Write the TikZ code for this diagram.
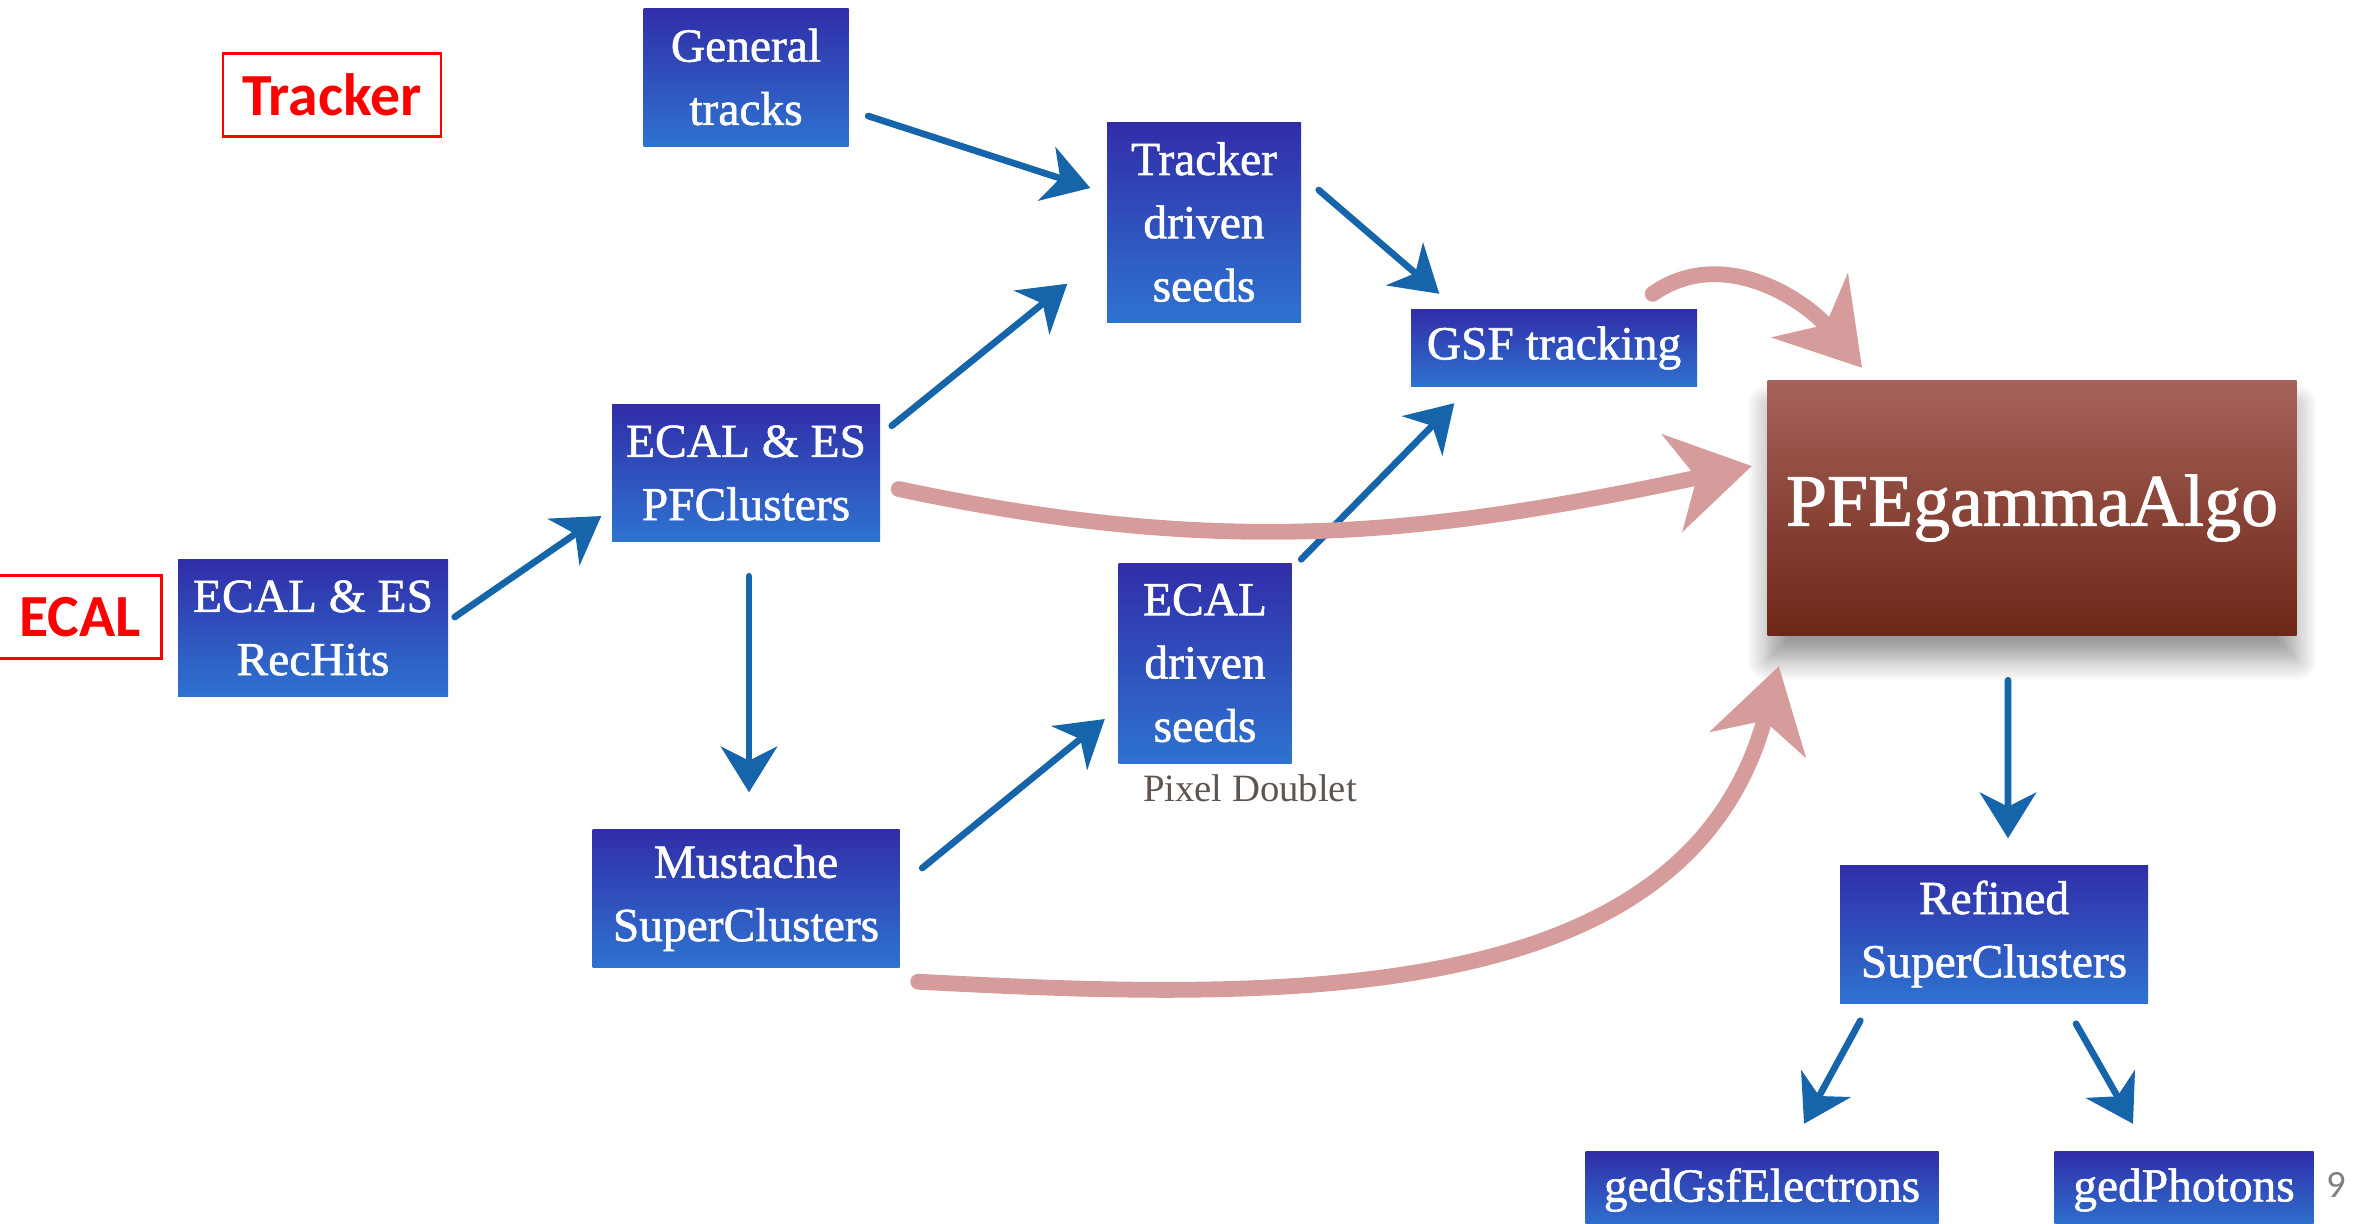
\documentclass[tikz,border=0pt]{standalone}
\usepackage{fontspec}
\setmainfont{Liberation Serif}
\newfontfamily\boxfont{Liberation Serif}[FakeBold=1.2]
\newfontfamily\labelfont{Carlito}
\usetikzlibrary{arrows.meta, shadows.blur}
\definecolor{boxtop}{RGB}{49,45,168}
\definecolor{boxbottom}{RGB}{46,115,208}
\definecolor{algotop}{RGB}{166,99,91}
\definecolor{algobottom}{RGB}{110,38,22}
\definecolor{flowblue}{RGB}{22,100,170}
\definecolor{flowpink}{RGB}{214,156,156}
\definecolor{notegray}{RGB}{95,85,80}
\tikzstyle{stepbox} = [
    rectangle,
    align=center,
    text=white,
    top color=boxtop,
    bottom color=boxbottom,
    font=\boxfont\fontsize{13.5}{18}\selectfont,
    inner sep=0pt
]
\tikzstyle{algobox} = [
    rectangle,
    text=white,
    top color=algotop,
    bottom color=algobottom,
    font=\boxfont\fontsize{21}{25}\selectfont,
    blur shadow={shadow xshift=0pt, shadow yshift=-7pt, shadow blur steps=12, shadow blur radius=6pt}
]
\tikzstyle{tag} = [
    rectangle,
    draw=red,
    thick,
    text=red,
    font=\labelfont\bfseries\fontsize{17}{20}\selectfont
]
\tikzstyle{arrow} = [
    flowblue,
    line width=1.9pt,
    line cap=round,
    -{Stealth[length=13pt, width=16pt, inset=4pt]}
]
\tikzstyle{bigarrow} = [
    flowpink,
    line width=4.5pt,
    line cap=round,
    -{Stealth[length=23pt, width=28pt, inset=7pt]}
]

\begin{document}
\begin{tikzpicture}
        \useasboundingbox (0,0) rectangle (23.59,-12.23);
        % labels
        \node (trackertag) [tag, minimum width=2.18cm, minimum height=0.83cm] at (3.32,-0.95) {Tracker};
        \node (ecaltag) [tag, minimum width=1.63cm, minimum height=0.83cm] at (0.80,-6.17) {ECAL};

        % boxes
        \node (gentracks) [stepbox, minimum width=2.05cm, minimum height=1.38cm] at (7.46,-0.77) {General\\tracks};
        \node (tdseeds) [stepbox, minimum width=1.94cm, minimum height=2.00cm] at (12.04,-2.22) {Tracker\\driven\\seeds};
        \node (gsf) [stepbox, minimum width=2.86cm, minimum height=0.77cm] at (15.54,-3.48) {GSF tracking};
        \node (pfclus) [stepbox, minimum width=2.68cm, minimum height=1.37cm] at (7.46,-4.73) {ECAL \& ES\\PFClusters};
        \node (rechits) [stepbox, minimum width=2.70cm, minimum height=1.37cm] at (3.13,-6.28) {ECAL \& ES\\RecHits};
        \node (edseeds) [stepbox, minimum width=1.73cm, minimum height=2.00cm] at (12.05,-6.63) {ECAL\\driven\\seeds};
        \node (pixel) [text=notegray, font=\fontsize{11}{13}\selectfont, anchor=north] at (12.50,-7.62) {Pixel Doublet};
        \node (mustache) [stepbox, minimum width=3.07cm, minimum height=1.38cm] at (7.46,-8.98) {Mustache\\SuperClusters};
        \node (pfegamma) [algobox, minimum width=5.29cm, minimum height=2.55cm] at (20.32,-5.08) {PFEgammaAlgo};
        \node (refined) [stepbox, minimum width=3.08cm, minimum height=1.38cm] at (19.94,-9.34) {Refined\\SuperClusters};
        \node (gedgsf) [stepbox, minimum width=3.53cm, minimum height=0.77cm] at (17.62,-11.90) {gedGsfElectrons};
        \node (gedpho) [stepbox, minimum width=2.59cm, minimum height=0.77cm] at (21.84,-11.90) {gedPhotons};
        \node (page) [text=gray, font=\labelfont\fontsize{11}{13}\selectfont] at (23.36,-11.85) {9};

        % blue arrows
        \draw[arrow] ([shift={(0.19,-0.39)}]gentracks.east) -- ([shift={(-0.16,0.34)}]tdseeds.west);
        \draw[arrow] ([shift={(0.17,0.32)}]tdseeds.east) -- ([shift={(0.29,0.15)}]gsf.north west);
        \draw[arrow] ([shift={(0.11,-0.22)}]pfclus.north east) -- ([shift={(-0.39,0.39)}]tdseeds.south west);
        \draw[arrow] ([shift={(0.06,0.11)}]rechits.east) -- ([shift={(-0.10,-0.43)}]pfclus.west);
        \draw[arrow] ([shift={(0.03,-0.34)}]pfclus.south) -- ([shift={(0.03,0.36)}]mustache.north);
        \draw[arrow] ([shift={(0.22,0.30)}]mustache.east) -- ([shift={(-0.13,-0.56)}]edseeds.west);
        \draw[arrow] ([shift={(0.09,0.03)}]edseeds.north east) -- ([shift={(0.44,-0.16)}]gsf.south west);
        \draw[arrow] ([shift={(-0.24,-0.44)}]pfegamma.south) -- ([shift={(0.14,0.26)}]refined.north);
        \draw[arrow] ([shift={(0.21,-0.17)}]refined.south west) -- ([shift={(0.42,0.27)}]gedgsf.north);
        \draw[arrow] ([shift={(0.82,-0.20)}]refined.south) -- ([shift={(-0.51,0.27)}]gedpho.north);

        % pink arrows
        \draw[bigarrow] ([shift={(-0.45,0.15)}]gsf.north east) to[out=35, in=130] ([shift={(-1.70,0.12)}]pfegamma.north);
        \draw[bigarrow] ([shift={(0.18,-0.16)}]pfclus.east) to[out=-12, in=192] ([shift={(-0.15,0.42)}]pfegamma.west);
        \draw[bigarrow] ([shift={(0.18,-0.14)}]mustache.south east) to[out=-3, in=-105] ([shift={(0.12,-0.30)}]pfegamma.south west);
    \end{tikzpicture}
\end{document}
